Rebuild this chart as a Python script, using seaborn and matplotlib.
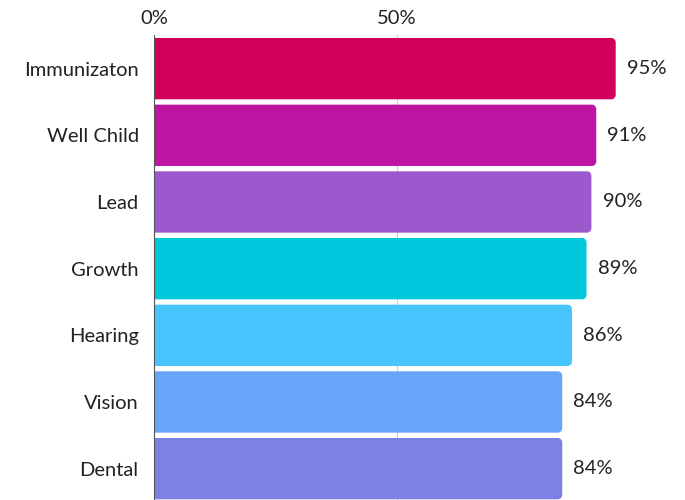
import matplotlib
matplotlib.use("Agg")
import matplotlib.pyplot as plt
import seaborn as sns
import pandas as pd
import numpy as np
from matplotlib.patches import Polygon

categories = ["Immunizaton", "Well Child", "Lead", "Growth", "Hearing", "Vision", "Dental"]
values = [95, 91, 90, 89, 86, 84, 84]
colors = ["#D1005B", "#BD14A1", "#9B59CD", "#00C9DD", "#48C5FF", "#68A4FA", "#7F80E6"]
tick_values = [0, 50]
tick_labels = ["0%", "50%"]

sns.set_theme(style="white")
plt.rcParams['font.family'] = ['Lato', 'DejaVu Sans']

df = pd.DataFrame({"cat": categories, "val": values})

fig = plt.figure(figsize=(6.85, 5.0), dpi=100)
ax = fig.add_axes([154/685, -2/500, 486/685, 466.7/500])
sns.barplot(data=df, x="val", y="cat", hue="cat", palette=colors, legend=False,
            orient="h", width=0.92, ax=ax, saturation=1)

ax.set_xlim(0, 100)
ax.set_ylim(6.5, -0.5)

# rounded corners on the right side (square on the left)
px_x = 486 / 100.0
px_y = 466.7 / 7.0
r_px = 4.5
rx = r_px / px_x
ry = r_px / px_y
t = np.linspace(0, np.pi / 2, 12)
for p in list(ax.patches):
    x0, y0 = p.get_x(), p.get_y()
    w, h = p.get_width(), p.get_height()
    x1, y1 = x0 + w, y0 + h
    fc = p.get_facecolor()
    # corner at (x1, y0): arc from top edge going to right edge
    arc1 = np.column_stack([x1 - rx + rx * np.sin(t), y0 + ry - ry * np.cos(t)])
    arc2 = np.column_stack([x1 - rx + rx * np.cos(t), y1 - ry + ry * np.sin(t)])
    pts = np.vstack([[x0, y0], arc1, arc2, [x0, y1]])
    poly = Polygon(pts, closed=True, facecolor=fc, edgecolor="none",
                   zorder=p.get_zorder())
    ax.add_patch(poly)
    p.set_visible(False)

fs = 14.5
for i, v in enumerate(values):
    ax.text(v + 2.3, i, f"{v}%", va="center", ha="left", fontsize=fs,
            color="#222222", clip_on=False)

ax.xaxis.tick_top()
ax.set_xticks(tick_values)
ax.set_xticklabels(tick_labels, fontsize=fs, color="#222222")
ax.tick_params(axis="x", length=0, pad=6)
ax.tick_params(axis="y", length=0, pad=11, labelsize=fs, labelcolor="#222222")
ax.set_xlabel("")
ax.set_ylabel("")
ax.xaxis.grid(True, color="#cccccc", linewidth=0.8)
ax.set_axisbelow(True)
for s in ["top", "right", "bottom"]:
    ax.spines[s].set_visible(False)
ax.spines["left"].set_color("#555555")
ax.spines["left"].set_linewidth(0.8)

fig.savefig("out.png", dpi=100)
